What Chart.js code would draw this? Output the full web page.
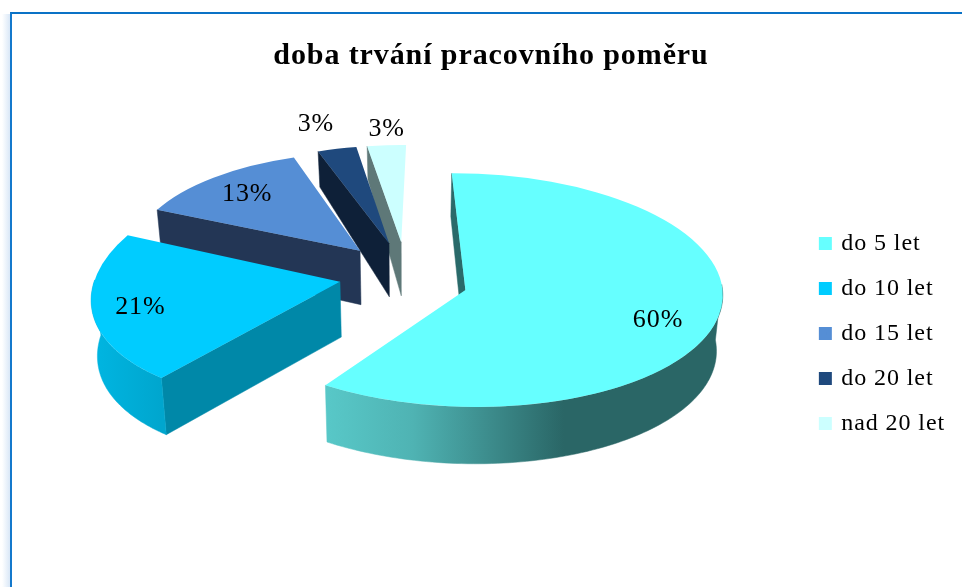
<!DOCTYPE html>
<html>
<head>
<meta charset="utf-8">
<script src="https://cdn.jsdelivr.net/npm/chart.js@4"></script>
<style>
html,body{margin:0;padding:0;background:#fff;overflow:hidden}
#stage{position:relative;width:962px;height:587px;overflow:hidden}
#glow{position:absolute;left:2px;top:14px;width:8px;height:573px;background:linear-gradient(to right,rgba(120,170,225,0),rgba(120,170,225,.28))}
#frame{position:absolute;left:9.5px;top:12px;width:960px;height:600px;border-left:2.5px solid #1479CC;border-top:2.5px solid #0A72C6}
canvas{position:absolute;left:0;top:0}
</style>
</head>
<body>
<div id="stage">
<div id="glow"></div><div id="frame"></div>
<canvas id="c" width="962" height="587"></canvas>
</div>
<script>
const titleText = 'doba trvání pracovního poměru';
const categories = ['do 5 let', 'do 10 let', 'do 15 let', 'do 20 let', 'nad 20 let'];
const shares = [60, 21, 13, 3, 3];
const topColors = ['#66FFFF', '#00CCFF', '#558ED5', '#1F497D', '#CCFFFF'];
const cutColors = ['#2A6A6A', '#0088A8', '#233655', '#0E2038', '#5E7878'];
const wallStops = [
  [[0, '#58C8C8'], [0.22, '#4FB3B3'], [0.6, '#2A6666'], [1, '#2A6666']],
  [[0, '#00B6E2'], [1, '#00A6CE']],
  [[0, '#233655'], [1, '#233655']],
  [[0, '#0E2038'], [1, '#0E2038']],
  [[0, '#5E7878'], [1, '#5E7878']]
];
const labelReach = [0.78, 0.81, 0.76, 1.30, 1.18];
const labelTurn = [0.07, -0.01, 0, -0.03, 0.01];

const view = {cx: 406, cy: 273, tilt: 0.465, persp: 2400, perspX: 1800, radius: 243, explode: 68, rotation: 1.2};
const serif = '"Liberation Serif","Times New Roman",serif';
const spacing = '0.9px';

// pie plane -> screen
function project(X, Y){
  return [view.cx + X / (1 - Y / view.perspX), view.cy + view.tilt * Y / (1 - Y / view.persp)];
}
function depthAt(y){ return 57 - 22 * Math.exp(-(y - 150) / 50); }

// local affine approximation of the projection for one slice (least squares)
function fitSlice(arc){
  const mid = (arc.startAngle + arc.endAngle) / 2;
  const ox = view.explode * Math.cos(mid), oy = view.explode * Math.sin(mid);
  const src = [], dst = [];
  const add = (lx, ly, w) => { for (let i = 0; i < w; i++) { src.push([lx, ly]); dst.push(project(lx + ox, ly + oy)); } };
  add(0, 0, 10);
  for (let t = 0; t <= 40; t++) {
    const a = arc.startAngle + (arc.endAngle - arc.startAngle) * t / 40;
    add(arc.outerRadius * Math.cos(a), arc.outerRadius * Math.sin(a), 1);
  }
  const M = [[0,0,0],[0,0,0],[0,0,0]], bu = [0,0,0], bv = [0,0,0];
  src.forEach((p, n) => {
    const r = [p[0], p[1], 1];
    for (let i = 0; i < 3; i++) {
      for (let j = 0; j < 3; j++) M[i][j] += r[i] * r[j];
      bu[i] += r[i] * dst[n][0];
      bv[i] += r[i] * dst[n][1];
    }
  });
  const solve = b => {
    const A = M.map((row, i) => row.concat(b[i]));
    for (let c = 0; c < 3; c++) {
      let p = c;
      for (let r = c + 1; r < 3; r++) if (Math.abs(A[r][c]) > Math.abs(A[p][c])) p = r;
      [A[c], A[p]] = [A[p], A[c]];
      for (let r = 0; r < 3; r++) if (r !== c) {
        const f = A[r][c] / A[c][c];
        for (let k = c; k < 4; k++) A[r][k] -= f * A[c][k];
      }
    }
    return [A[0][3] / A[0][0], A[1][3] / A[1][1], A[2][3] / A[2][2]];
  };
  const u = solve(bu), v = solve(bv);
  return {a: u[0], c: u[1], e: u[2], b: v[0], d: v[1], f: v[2]};
}

const tiltPlugin = {
  id: 'tilt',
  beforeUpdate(chart){ chart.ctx.letterSpacing = spacing; },
  beforeDraw(chart){ chart.ctx.letterSpacing = spacing; },
  beforeDatasetsDraw(chart){
    const ctx = chart.ctx, arcs = chart.getDatasetMeta(0).data;
    const fits = arcs.map(fitSlice);
    arcs.forEach((arc, i) => {
      const T = fits[i];
      if (!arc.baseDraw) arc.baseDraw = arc.draw;
      arc.draw = function(c, area){
        c.save();
        c.translate(T.e, T.f);
        c.transform(T.a, T.b, T.c, T.d, 0, 0);
        c.translate(-arc.x, -arc.y);
        arc.baseDraw(c, area);
        c.restore();
      };
    });
    const low = p => [p[0] + (view.cx - p[0]) * 0.02, p[1] + depthAt(p[1])];
    const wall = (pts, fill) => {
      ctx.beginPath();
      pts.forEach((p, i) => i ? ctx.lineTo(p[0], p[1]) : ctx.moveTo(p[0], p[1]));
      for (let i = pts.length - 1; i >= 0; i--) { const q = low(pts[i]); ctx.lineTo(q[0], q[1]); }
      ctx.closePath();
      ctx.fillStyle = fill; ctx.strokeStyle = fill; ctx.lineWidth = 0.5;
      ctx.fill(); ctx.stroke();
    };
    [4, 3, 2, 1, 0].forEach(i => {
      const arc = arcs[i], R = arc.outerRadius, T = fits[i];
      const rim = (ang, r) => {
        const lx = r * Math.cos(ang), ly = r * Math.sin(ang);
        return [T.a * lx + T.c * ly + T.e, T.b * lx + T.d * ly + T.f];
      };
      wall([rim(0, 0), rim(arc.startAngle, R)], cutColors[i]);
      const pts = [];
      for (let t = 0; t <= 160; t++) {
        const ang = arc.startAngle + (arc.endAngle - arc.startAngle) * t / 160;
        if (Math.sin(ang) >= -0.02) pts.push(rim(ang, R));
      }
      if (pts.length > 1) {
        const xs = pts.map(p => p[0]);
        const g = ctx.createLinearGradient(Math.min(...xs), 0, Math.max(...xs), 0);
        wallStops[i].forEach(st => g.addColorStop(st[0], st[1]));
        wall(pts, g);
      }
    });
  },
  afterDatasetsDraw(chart){
    const ctx = chart.ctx, arcs = chart.getDatasetMeta(0).data;
    ctx.save();
    ctx.font = '26px ' + serif;
    ctx.fillStyle = '#000';
    ctx.textAlign = 'center';
    ctx.textBaseline = 'middle';
    arcs.forEach((arc, i) => {
      const mid = (arc.startAngle + arc.endAngle) / 2;
      const a = mid + labelTurn[i];
      const r = arc.outerRadius * labelReach[i];
      const p = project(view.explode * Math.cos(mid) + r * Math.cos(a), view.explode * Math.sin(mid) + r * Math.sin(a));
      ctx.fillText(shares[i] + '%', p[0], p[1]);
    });
    ctx.restore();
  }
};

new Chart(document.getElementById('c'), {
  type: 'pie',
  data: {
    labels: categories,
    datasets: [{
      data: shares,
      backgroundColor: topColors,
      borderWidth: 0,
      clip: false
    }]
  },
  options: {
    responsive: false,
    animation: false,
    rotation: view.rotation,
    radius: view.radius,
    layout: {padding: {left: 27, right: 7, top: 0, bottom: 0}},
    plugins: {
      tooltip: {enabled: false},
      title: {
        display: true,
        text: titleText,
        color: '#000',
        font: {family: serif, size: 30, weight: 'bold'},
        padding: {top: 38, bottom: 6}
      },
      legend: {
        position: 'right',
        fullSize: false,
        labels: {
          color: '#000',
          font: {family: serif, size: 24},
          boxWidth: 8,
          boxHeight: 8,
          padding: 21,
          generateLabels: () => categories.map((c, i) => ({
            text: c, fillStyle: topColors[i], strokeStyle: topColors[i], lineWidth: 5, hidden: false, index: i
          }))
        }
      }
    }
  },
  plugins: [tiltPlugin]
});
</script>
</body>
</html>
